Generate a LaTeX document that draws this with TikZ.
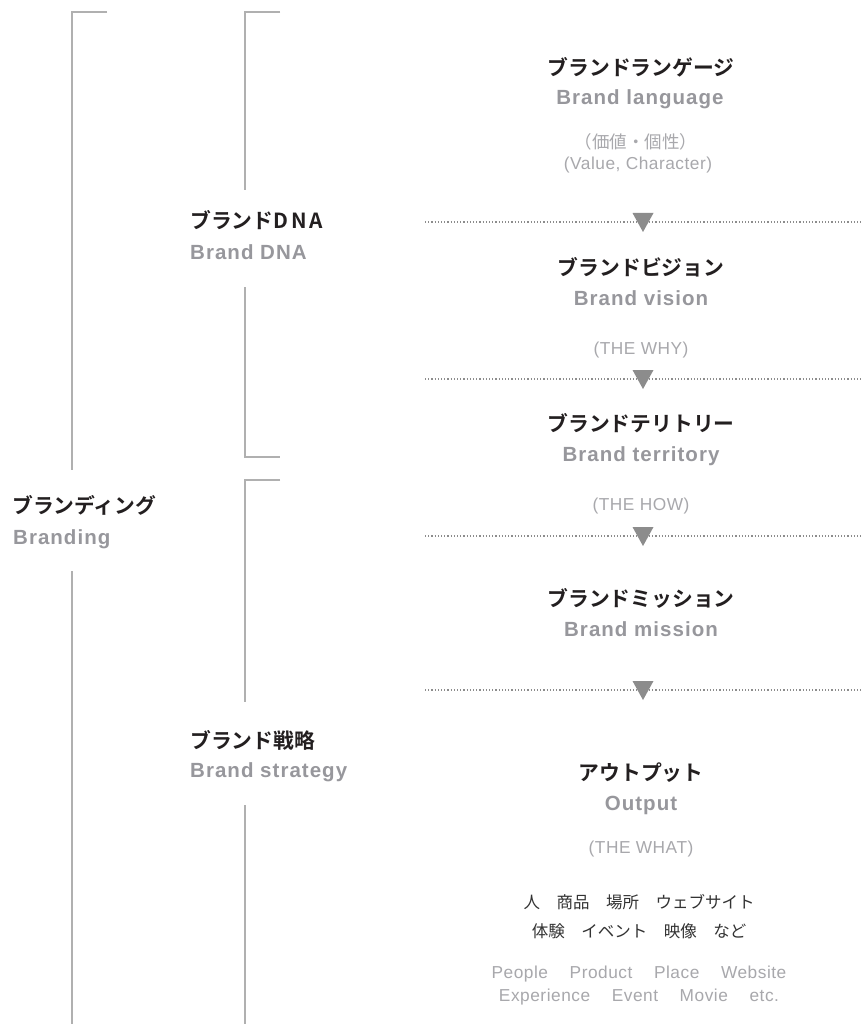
\documentclass[tikz,border=0pt]{standalone}
\usepackage{fontspec}
\setmainfont{Liberation Sans}
\newfontfamily\jpb{Noto Sans CJK JP Bold}
\newfontfamily\jpbls{Noto Sans CJK JP Bold}[LetterSpace=14]
\newfontfamily\jpr{Noto Sans CJK JP}
\newfontfamily\enb{Liberation Sans Bold}[LetterSpace=5]
\newfontfamily\enl{Liberation Sans}[LetterSpace=3]
\definecolor{titlecol}{HTML}{231F20}
\definecolor{engray}{HTML}{97979C}
\definecolor{lightgr}{HTML}{A8A8AC}
\definecolor{itemcol}{HTML}{333333}
\definecolor{linecol}{HTML}{B0B0B0}
\definecolor{dotcol}{HTML}{8C8C8C}
\begin{document}
\begin{tikzpicture}[x=1pt,y=-1pt,
  jtitle/.style={font=\jpb\fontsize{20.8}{24}\selectfont, text=titlecol, inner sep=0pt},
  etitle/.style={font=\enb\fontsize{20.5}{24}\selectfont, text=engray, anchor=base, inner sep=0pt},
  elight/.style={font=\enl\fontsize{17.3}{20}\selectfont, text=lightgr, anchor=base, inner sep=0pt},
  jlight/.style={font=\jpr\fontsize{17.5}{20}\selectfont, text=lightgr, inner sep=0pt},
  jitem/.style={font=\jpr\fontsize{16.5}{20}\selectfont, text=itemcol, inner sep=0pt},
  bracket/.style={draw=linecol, line width=1.3pt},
  dotline/.style={draw=dotcol, line width=1.2pt, dash pattern=on 1.2pt off 2pt},
  tri/.style={fill=dotcol}]
\useasboundingbox (0,0) rectangle (861,1024);
\fill[white] (0,0) rectangle (861,1024);

% brackets
\coordinate (o1) at (107,12); \coordinate (o2) at (72,12); \coordinate (o3) at (72,470);
\coordinate (o4) at (72,571); \coordinate (o5) at (72,1024);
\draw[bracket] (o1) -- (o2) -- (o3);
\draw[bracket] (o4) -- (o5);
\coordinate (a1) at (280,12); \coordinate (a2) at (245,12); \coordinate (a3) at (245,190);
\coordinate (a4) at (245,287); \coordinate (a5) at (245,457); \coordinate (a6) at (280,457);
\draw[bracket] (a1) -- (a2) -- (a3);
\draw[bracket] (a4) -- (a5) -- (a6);
\coordinate (c1) at (280,480); \coordinate (c2) at (245,480); \coordinate (c3) at (245,702);
\coordinate (c4) at (245,805); \coordinate (c5) at (245,1024);
\draw[bracket] (c1) -- (c2) -- (c3);
\draw[bracket] (c4) -- (c5);

% dotted separators with triangles
\foreach \i/\yy in {1/222,2/379,3/536,4/690}{
  \coordinate (dl\i) at (425,\yy);
  \coordinate (dr\i) at (861,\yy);
  \coordinate (t\i) at (643,\yy);
  \draw[dotline] (dl\i) -- (dr\i);
  \fill[tri] (t\i) ++(-10.5,-9) -- ++(21,0) -- ++(-10.5,19) -- cycle;
}

% left labels
\node[jtitle, anchor=west] (branding) at (12,505) {ブランディング};
\node[etitle, anchor=base west] (brandingE) at (13,544) {Branding};
\node[jtitle, anchor=west] (dna) at (190,220) {ブランド{\jpbls DNA}};
\node[etitle, anchor=base west] (dnaE) at (190,259) {Brand DNA};
\node[jtitle, anchor=west] (strat) at (190,740) {ブランド戦略};
\node[etitle, anchor=base west] (stratE) at (190,777) {Brand strategy};

% centre column
\node[jtitle] (lang) at (641,67) {ブランドランゲージ};
\node[etitle] (langE) at (640,105) {Brand language};
\node[jlight] (langJ) at (636,142) {（価値・個性）};
\node[elight] (langL) at (638,170) {(Value, Character)};

\node[jtitle] (vis) at (641,267) {ブランドビジョン};
\node[etitle] (visE) at (641,305) {Brand vision};
\node[elight] (visL) at (641,354) {(THE WHY)};

\node[jtitle] (ter) at (641,423) {ブランドテリトリー};
\node[etitle] (terE) at (641,461) {Brand territory};
\node[elight] (terL) at (641,510) {(THE HOW)};

\node[jtitle] (mis) at (641,598) {ブランドミッション};
\node[etitle] (misE) at (641,636) {Brand mission};

\node[jtitle] (out) at (641,773) {アウトプット};
\node[etitle] (outE) at (641,810) {Output};
\node[elight] (outL) at (641,853) {(THE WHAT)};

\node[jitem] (it1) at (639,902) {人\hspace{1em}商品\hspace{1em}場所\hspace{1em}ウェブサイト};
\node[jitem] (it2) at (639,931) {体験\hspace{1em}イベント\hspace{1em}映像\hspace{1em}など};
\node[elight] (ie1) at (639,978) {People\hspace{1.25em}Product\hspace{1.25em}Place\hspace{1.25em}Website};
\node[elight] (ie2) at (639,1001) {Experience\hspace{1.25em}Event\hspace{1.25em}Movie\hspace{1.25em}etc.};
\end{tikzpicture}
\end{document}
